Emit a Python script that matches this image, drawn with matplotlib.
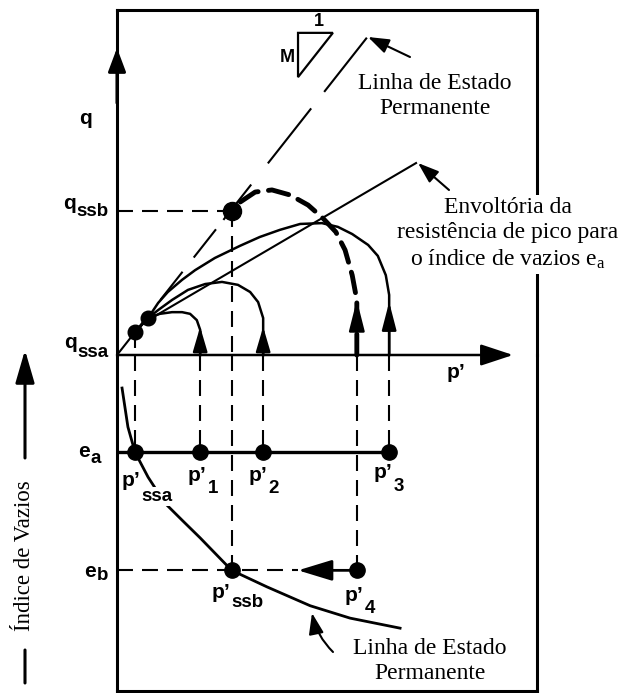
import matplotlib.pyplot as plt
from matplotlib.patches import Polygon
from matplotlib.text import Annotation

plt.rcParams['lines.scale_dashes'] = False
plt.rcParams['mathtext.default'] = 'regular'

SANS = 'Liberation Sans'
SERIF = 'Liberation Serif'
W, H = 620, 693

# inclinação da linha de estado permanente
M = 1.27
p_lep_fim = 59.5

# pontos no plano p'-q
p_ssa, q_ssa = 4.3, 5.5
p_ssb, q_ssb = 27.3, 34.3
p_1, p_2, p_3, p_4 = 19.8, 34.8, 64.8, 57.1
p_conv, q_conv = 7.4, 8.8

# índices de vazios
e_a, e_b = 0.85, 0.65

# trajetórias de tensões não drenadas
traj1_p = [19.8, 19.8, 19.0, 17.4, 15.5, 13.1, 10.2, 7.4, 4.3]
traj1_q = [0.0, 6.0, 8.3, 9.8, 10.2, 10.2, 9.8, 8.8, 5.5]
traj2_p = [34.8, 34.8, 33.6, 31.7, 28.8, 25.0, 21.0, 16.9, 13.1, 9.8, 7.4, 4.3]
traj2_q = [0.0, 8.8, 12.6, 15.0, 16.7, 17.4, 16.9, 15.5, 13.1, 10.7, 8.8, 5.5]
traj3_p = [64.8, 64.8, 64.0, 62.1, 59.8, 56.0, 52.6, 48.8, 43.6, 38.8, 34.0,
           29.3, 23.3, 18.6, 15.5, 12.1, 9.8, 7.4, 4.3]
traj3_q = [0.0, 14.3, 19.0, 23.6, 26.2, 28.8, 30.5, 31.4, 31.2, 29.8, 28.1,
           26.0, 23.1, 20.2, 17.9, 15.0, 12.4, 8.8, 5.5]
traj4_p = [57.1, 57.1, 56.0, 54.3, 52.1, 49.0, 45.5, 41.2, 36.9, 32.9, 29.3, 27.3]
traj4_q = [0.0, 13.1, 19.0, 25.0, 29.3, 32.6, 35.7, 38.1, 39.3, 38.8, 36.4, 34.3]

# envoltória de resistência de pico
envolt_p = [7.4, 71.2]
envolt_q = [8.3, 45.7]

# linha de estado permanente no plano e-p'
lep_p = [1.2, 2.6, 4.3, 7.4, 11.4, 15.5, 19.8, 27.3, 35.7, 46.0, 55.5, 67.4]
lep_e = [0.959, 0.893, 0.850, 0.808, 0.764, 0.735, 0.705, 0.650, 0.622,
         0.590, 0.569, 0.552]

fig = plt.figure(figsize=(6.2, 6.93), dpi=100)
ax = fig.add_axes([117 / W, (H - 355) / H, 420 / W, 345 / H])
ax2 = fig.add_axes([117 / W, (H - 691) / H, 420 / W, 336 / H])
ax.set_xlim(0, 100)
ax.set_ylim(0, 345 / 4.2)
ax2.set_xlim(0, 100)
ax2.set_ylim(0.4455, 1.015)
for a in (ax, ax2):
    a.set_xticks([])
    a.set_yticks([])
    a.patch.set_visible(False)
    for s in a.spines.values():
        s.set_linewidth(2.2)
ax.spines['bottom'].set_visible(False)
ax2.spines['top'].set_visible(False)

TRACO = (0, (11.5, 6.5))


def seta(a, base, ponta, hl, hw, ms=20, lw=1.8, coords='data', **kw):
    a.annotate('', xy=ponta, xytext=base, xycoords=coords, textcoords=coords,
               annotation_clip=False,
               arrowprops=dict(arrowstyle=f'-|>,head_length={hl},head_width={hw}',
                               mutation_scale=ms, lw=lw, color='k',
                               shrinkA=0, shrinkB=0, **kw))


def px(x, y):
    return (x / W, 1 - y / H)


# eixos q e p'
seta(ax, (0, 60), (0, 73.1), 0.72, 0.27, lw=2.2)
seta(ax, (0, 0), (94.3, 0), 1.0, 0.33, lw=1.8)

# linha de estado permanente (q = M p')
lep_traco = (0, (39.6, 10.8, 25.9, 13.0, 25.9, 8.6, 32.4, 19.4, 50.4, 15.1, 49.7, 20))
ax.plot([0, p_lep_fim], [0, M * p_lep_fim], color='k', lw=1.5,
        linestyle=lep_traco, clip_on=False)

# triângulo de inclinação
t0p, t0q, lado = 43.1, 76.7, 8.3
ax.add_patch(Polygon([(t0p, t0q), (t0p + lado, t0q), (t0p, t0q - M * lado)],
                     closed=True, fill=False, lw=1.6, ec='k', clip_on=False))
fig.text(*px(287, 58), 'M', family=SANS, fontsize=13, weight='bold',
         ha='center', va='center')
fig.text(*px(319, 22), '1', family=SANS, fontsize=13, weight='bold',
         ha='center', va='center')

# envoltória
ax.plot(envolt_p, envolt_q, color='k', lw=1.5, clip_on=False)

# trajetórias
for tp, tq in [(traj1_p, traj1_q), (traj2_p, traj2_q), (traj3_p, traj3_q)]:
    ax.plot(tp, tq, color='k', lw=1.8, solid_joinstyle='round', clip_on=False)
ax.plot(traj4_p, traj4_q, color='k', lw=3.5, linestyle=(0, (15, 7.5)),
        dash_capstyle='round', clip_on=False)

seta(ax, (p_1, 0), (p_1, 6.7), 0.75, 0.22)
seta(ax, (p_2, 0), (p_2, 6.7), 0.75, 0.22)
seta(ax, (p_3, 0), (p_3, 12.6), 0.85, 0.22)
seta(ax, (p_4, 6.4), (p_4, 13.1), 0.95, 0.24)

# linhas de chamada no plano p'-q
ax.plot([0, p_ssb], [q_ssb, q_ssb], color='k', lw=1.5, linestyle=TRACO)
ax.plot([p_ssb, p_ssb], [q_ssb, 0], color='k', lw=1.5, linestyle=TRACO)
ax.plot([p_ssa, p_ssa], [q_ssa, 0], color='k', lw=1.5, linestyle=TRACO)

ax.plot([p_ssa, p_conv], [q_ssa, q_conv], 'o', color='k', ms=10.5, zorder=5,
        clip_on=False)
ax.plot([p_ssb], [q_ssb], 'o', color='k', ms=13, zorder=5)

# plano e-p'
e_topo = ax2.get_ylim()[1]
for pv, ev in [(p_ssa, e_a), (p_1, e_a), (p_2, e_a), (p_3, e_a),
               (p_ssb, e_b), (p_4, e_b)]:
    ax2.plot([pv, pv], [e_topo, ev], color='k', lw=1.5, linestyle=TRACO)

ax2.plot([0, p_3], [e_a, e_a], color='k', lw=2.4)
ax2.plot(lep_p, lep_e, color='k', lw=2.0, solid_joinstyle='round')
ax2.plot([0, 43.1], [e_b, e_b], color='k', lw=1.5, linestyle=TRACO)
seta(ax2, (p_4, e_b), (43.1, e_b), 1.05, 0.32, lw=2.0)

ax2.plot([p_ssa, p_1, p_2, p_3], [e_a] * 4, 'o', color='k', ms=11, zorder=5)
ax2.plot([p_ssb, p_4], [e_b] * 2, 'o', color='k', ms=11, zorder=5)


# rótulos com subscrito
def rotulo(x, y, base, sub='', dy=0, dx=0.5, fundo=False):
    t = fig.text(*px(x, y), base, family=SANS, fontsize=15, weight='bold',
                 ha='left', va='baseline')
    if sub:
        kw = {}
        if fundo:
            kw['bbox'] = dict(facecolor='white', edgecolor='none', pad=0.5)
        fig.add_artist(Annotation(sub, xy=(1, 0), xycoords=t,
                                  xytext=(dx, -dy * 0.72),
                                  textcoords='offset points', family=SANS,
                                  fontsize=13.5, weight='bold',
                                  ha='left', va='bottom', **kw))


rotulo(79, 124, 'q')
rotulo(63, 209, 'q', 'ssb', 7)
rotulo(64, 348, 'q', 'ssa', 9)
rotulo(78, 457, 'e', 'a', 6)
rotulo(84, 577, 'e', 'b', 3)
rotulo(447, 378, 'p’')
rotulo(122, 486, 'p’', 'ssa', 15, dx=0.3, fundo=True)
rotulo(188, 481, 'p’', '1', 12)
rotulo(249, 481, 'p’', '2', 12)
rotulo(374, 478, 'p’', '3', 13)
rotulo(212, 598, 'p’', 'ssb', 9)
rotulo(345, 601, 'p’', '4', 12)

# textos explicativos
fig.text(*px(435, 96), 'Linha de Estado\nPermanente', family=SERIF, fontsize=17,
         ha='center', va='center', linespacing=1.25)
fig.text(*px(508, 234), 'Envoltória da\nresistência de pico para\no índice de vazios e$_a$',
         family=SERIF, fontsize=17, ha='center', va='center', linespacing=1.25,
         bbox=dict(facecolor='white', edgecolor='none', pad=2))
fig.text(*px(430, 661), 'Linha de Estado\nPermanente', family=SERIF, fontsize=17,
         ha='center', va='center', linespacing=1.25)
fig.text(*px(25, 556), 'Índice de Vazios', family=SERIF, fontsize=16.5,
         rotation=90, ha='center', va='center')

seta(ax, px(410, 57), px(368, 37), 0.85, 0.3, ms=15, lw=1.5, coords='figure fraction')
seta(ax, px(449, 190), px(418, 163), 0.85, 0.3, ms=15, lw=1.5, coords='figure fraction')
seta(ax, px(333, 652), px(312, 613), 0.85, 0.3, ms=15, lw=1.5,
     coords='figure fraction', connectionstyle='arc3,rad=-0.15')
seta(ax, px(25, 458), px(25, 350), 1.0, 0.29, lw=2.2, coords='figure fraction')
ax.annotate('', xy=px(25, 683), xytext=px(25, 650), xycoords='figure fraction',
            annotation_clip=False,
            arrowprops=dict(arrowstyle='-', lw=2.2, color='k', shrinkA=0, shrinkB=0))

fig.savefig('out.png', dpi=100, facecolor='white')
